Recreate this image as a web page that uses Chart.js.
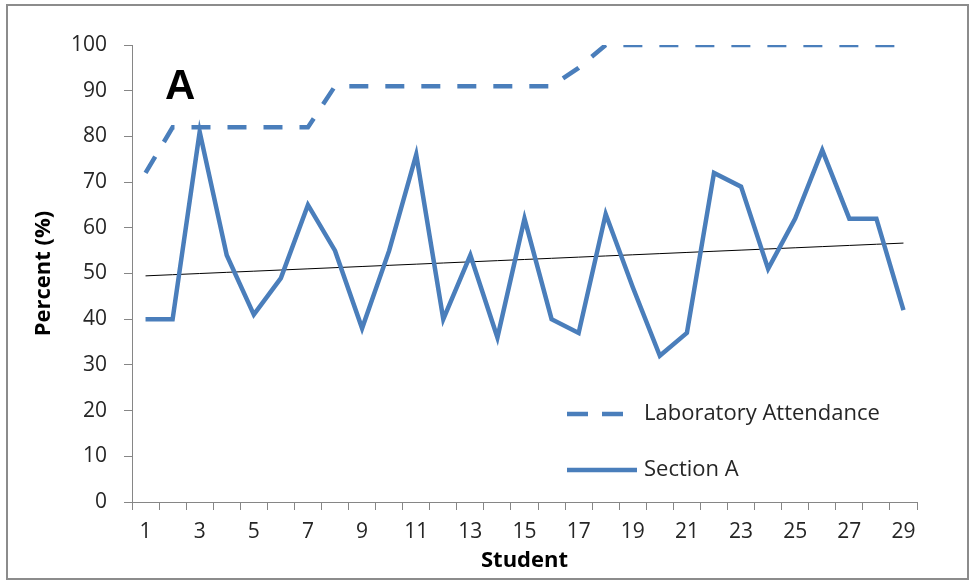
<!DOCTYPE html>
<html>
<head>
<meta charset="utf-8">
<script src="https://cdn.jsdelivr.net/npm/chart.js@4.4.0/dist/chart.umd.min.js"></script>
<style>
html, body { margin: 0; padding: 0; background: #fff; }
#wrap { position: relative; width: 971px; height: 581px; }
#frame { position: absolute; left: 6px; top: 4px; width: 959px; height: 572px; border: 2px solid #8c8c8c; pointer-events: none; }
</style>
</head>
<body>
<div id="wrap">
  <canvas id="chart" width="971" height="581"></canvas>
  <div id="frame"></div>
</div>
<script>
const students = ['1','2','3','4','5','6','7','8','9','10','11','12','13','14','15',
                  '16','17','18','19','20','21','22','23','24','25','26','27','28','29'];
const labAttendance = [72, 82, 82, 82, 82, 82, 82, 91, 91, 91, 91, 91, 91, 91, 91,
                       91, 95, 100, 100, 100, 100, 100, 100, 100, 100, 100, 100, 100, 100];
const sectionA = [40, 40, 81, 54, 41, 49, 65, 55, 38, 55, 76, 40, 54, 36, 62,
                  40, 37, 63, 47, 32, 37, 72, 69, 51, 62, 77, 62, 62, 42];

const blue = '#4a7ebb';
const grey = '#868686';
const textCol = '#262626';

// linear trendline for Section A (least squares)
function trend(vals) {
  const n = vals.length;
  let sx = 0, sy = 0, sxy = 0, sxx = 0;
  vals.forEach((v, i) => { sx += i; sy += v; sxy += i * v; sxx += i * i; });
  const b = (n * sxy - sx * sy) / (n * sxx - sx * sx);
  const a = (sy - b * sx) / n;
  return vals.map((v, i) => a + b * i);
}
const sectionTrend = trend(sectionA);

// legend drawn inside the plot, lower right
const insideLegend = {
  id: 'insideLegend',
  afterDraw(chart) {
    const ctx = chart.ctx;
    const area = chart.chartArea;
    const x0 = area.left + 435;
    const rows = [
      { text: 'Laboratory Attendance', dash: [21, 14], len: 56, y: area.top + 369 },
      { text: 'Section A', dash: [], len: 70, y: area.top + 425 }
    ];
    ctx.save();
    ctx.strokeStyle = blue;
    ctx.lineWidth = 4.5;
    ctx.font = '22px "Open Sans"';
    ctx.fillStyle = textCol;
    ctx.textBaseline = 'middle';
    rows.forEach(r => {
      ctx.setLineDash(r.dash);
      ctx.beginPath();
      ctx.moveTo(x0, r.y);
      ctx.lineTo(x0 + r.len, r.y);
      ctx.stroke();
      ctx.fillText(r.text, x0 + 77, r.y);
    });
    ctx.setLineDash([]);
    ctx.font = 'bold 42px "Liberation Sans"';
    ctx.fillStyle = '#000';
    ctx.textBaseline = 'alphabetic';
    ctx.fillText('A', area.left + 33, area.top + 54);
    ctx.restore();
  }
};

new Chart(document.getElementById('chart'), {
  type: 'line',
  data: {
    labels: students,
    datasets: [{
      label: 'Laboratory Attendance',
      data: labAttendance,
      borderColor: blue,
      borderWidth: 4.5,
      borderDash: [19, 17],
      pointRadius: 0,
      tension: 0
    }, {
      label: 'Section A',
      data: sectionA,
      borderColor: blue,
      borderWidth: 4.5,
      pointRadius: 0,
      tension: 0
    }, {
      label: 'Trend',
      data: sectionTrend,
      borderColor: '#000',
      borderWidth: 1,
      pointRadius: 0,
      tension: 0
    }]
  },
  options: {
    responsive: false,
    animation: false,
    devicePixelRatio: 1,
    layout: { padding: { left: 0, top: 45, right: 54, bottom: 0 } },
    plugins: {
      legend: { display: false },
      tooltip: { enabled: false }
    },
    scales: {
      x: {
        offset: true,
        grid: { offset: true, drawOnChartArea: false, color: grey, tickLength: 8 },
        border: { color: grey },
        ticks: {
          autoSkip: false,
          maxRotation: 0,
          padding: 9,
          color: textCol,
          font: { family: 'Open Sans', size: 21 },
          callback: function (v, i) { return i % 2 === 0 ? this.getLabelForValue(v) : ''; }
        },
        title: {
          display: true, text: 'Student', color: '#000',
          font: { family: 'Open Sans', size: 22, weight: 'bold' },
          padding: { top: 0, bottom: 7 }
        },
        afterFit(s) { s.height = 79; }
      },
      y: {
        min: 0,
        max: 100,
        grid: { drawOnChartArea: false, color: grey, tickLength: 8 },
        border: { color: grey },
        ticks: {
          stepSize: 10,
          padding: 17,
          color: textCol,
          font: { family: 'Open Sans', size: 21 }
        },
        title: {
          display: true, text: 'Percent (%)', color: '#000',
          font: { family: 'Open Sans', size: 22, weight: 'bold' },
          padding: { top: 31, bottom: 0 }
        },
        afterFit(s) { s.width = 132; }
      }
    }
  },
  plugins: [insideLegend]
});
</script>
</body>
</html>
